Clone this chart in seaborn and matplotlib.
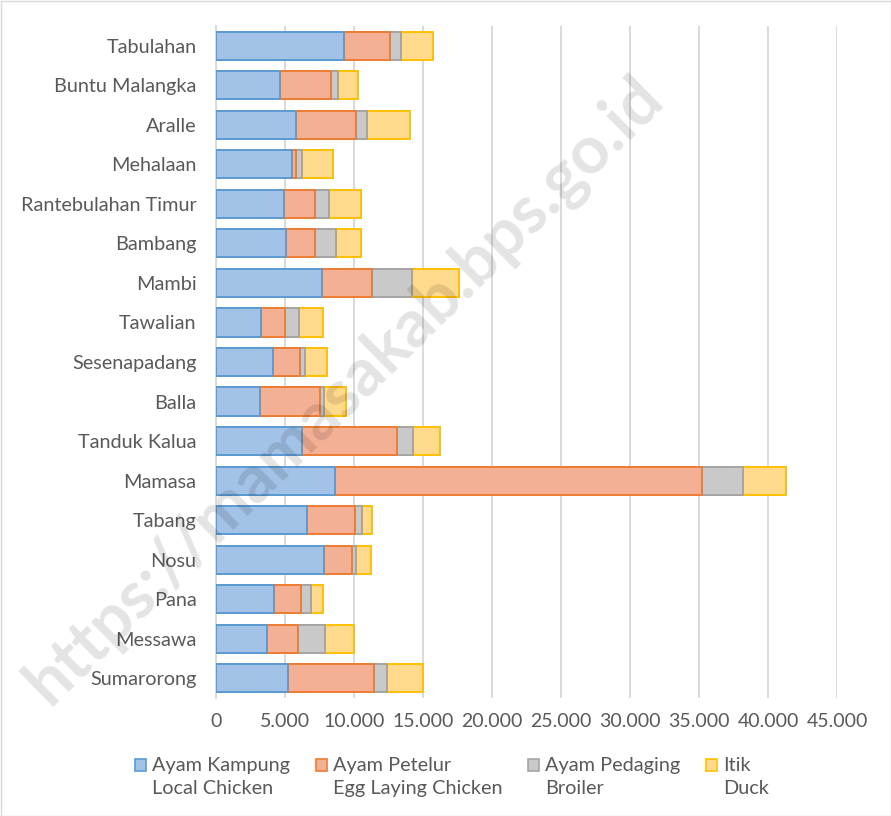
import numpy as np
import pandas as pd
import matplotlib
matplotlib.use("Agg")
import matplotlib.pyplot as plt
from matplotlib.patches import Patch, Rectangle
import seaborn as sns

districts = ["Tabulahan", "Buntu Malangka", "Aralle", "Mehalaan", "Rantebulahan Timur",
             "Bambang", "Mambi", "Tawalian", "Sesenapadang", "Balla", "Tanduk Kalua",
             "Mamasa", "Tabang", "Nosu", "Pana", "Messawa", "Sumarorong"]
ayam_kampung = [9280, 4660, 5770, 5530, 4930, 5040, 7680, 3280, 4150, 3210, 6200,
                8590, 6590, 7800, 4170, 3720, 5210]
ayam_petelur = [3300, 3700, 4400, 290, 2270, 2130, 3620, 1740, 1960, 4330, 6880,
                26600, 3480, 2060, 1990, 2190, 6210]
ayam_pedaging = [800, 480, 770, 410, 990, 1500, 2920, 970, 360, 290, 1180,
                 3020, 510, 280, 700, 1990, 970]
itik = [2340, 1470, 3120, 2220, 2290, 1860, 3360, 1730, 1600, 1560, 1950,
        3090, 720, 1060, 890, 2070, 2610]
series_labels = ["Ayam Kampung\nLocal Chicken", "Ayam Petelur\nEgg Laying Chicken",
                 "Ayam Pedaging\nBroiler", "Itik\nDuck"]
x_ticks = [0, 5000, 10000, 15000, 20000, 25000, 30000, 35000, 40000, 45000]
x_ticklabels = ["0", "5.000", "10.000", "15.000", "20.000", "25.000", "30.000",
                "35.000", "40.000", "45.000"]

fills = ["#A3C2E7", "#F4B094", "#C9C9C9", "#FFD98C"]
edges = ["#5B9BD5", "#ED7D31", "#A5A5A5", "#FFC000"]

sns.set_theme(style="white")
plt.rcParams['font.family'] = ['Lato', 'DejaVu Sans']
txt = "#595959"

df = pd.DataFrame({"district": districts, "k": ayam_kampung, "p": ayam_petelur,
                   "pd": ayam_pedaging, "i": itik})
cum = np.cumsum(np.array([ayam_kampung, ayam_petelur, ayam_pedaging, itik]), axis=0)
for j, key in enumerate(["c0", "c1", "c2", "c3"]):
    df[key] = cum[j]

fig = plt.figure(figsize=(8.91, 8.16), dpi=100)
ax = fig.add_axes([216/891, 1-698/816, (837-216)/891, (698-26)/816])

for j in [3, 2, 1, 0]:
    sns.barplot(data=df, x=f"c{j}", y="district", orient="h", ax=ax,
                color=fills[j], edgecolor=edges[j], linewidth=1.4,
                width=0.71, saturation=1, errorbar=None, zorder=3)

ax.set_xlim(0, 45000)
ax.set_ylim(len(districts) - 0.5, -0.5)
ax.set_xticks(x_ticks)
ax.set_xticklabels(x_ticklabels)
ax.xaxis.grid(True, color="#D9D9D9", linewidth=1.4, zorder=0)
ax.set_axisbelow(True)
ax.set_xlabel("")
ax.set_ylabel("")
for s in ["top", "right", "bottom"]:
    ax.spines[s].set_visible(False)
ax.spines["left"].set_color("#D9D9D9")
ax.spines["left"].set_linewidth(1.4)
ax.tick_params(axis="y", length=0, colors=txt, labelsize=14.3, pad=14)
ax.tick_params(axis="x", length=0, colors=txt, labelsize=14, pad=11)

handles = [Patch(facecolor=fills[j], edgecolor=edges[j], linewidth=1.2) for j in range(4)]
leg = fig.legend(handles, series_labels, ncol=4, loc="center",
                 bbox_to_anchor=(452/891, 1-777/816), frameon=False,
                 fontsize=14.3, handlelength=0.55, handleheight=0.55,
                 handletextpad=0.3, columnspacing=1.3)
for t in leg.get_texts():
    t.set_color(txt)
    t.set_linespacing(1.4)
for h in leg.legend_handles:
    h.set_y(h.get_y() + 8.6)

fig.text(345/891, 1-390/816, "https://mamasakab.bps.go.id", rotation=44.5,
         ha="center", va="center", fontsize=48, fontweight="bold",
         color="black", alpha=0.11, zorder=10)

fig.patches.append(Rectangle((0.5/891, 0.5/816), 1-1/891, 1-1/816,
                             transform=fig.transFigure, fill=False,
                             edgecolor="#D9D9D9", linewidth=1.0))

fig.savefig("out.png", dpi=100)
